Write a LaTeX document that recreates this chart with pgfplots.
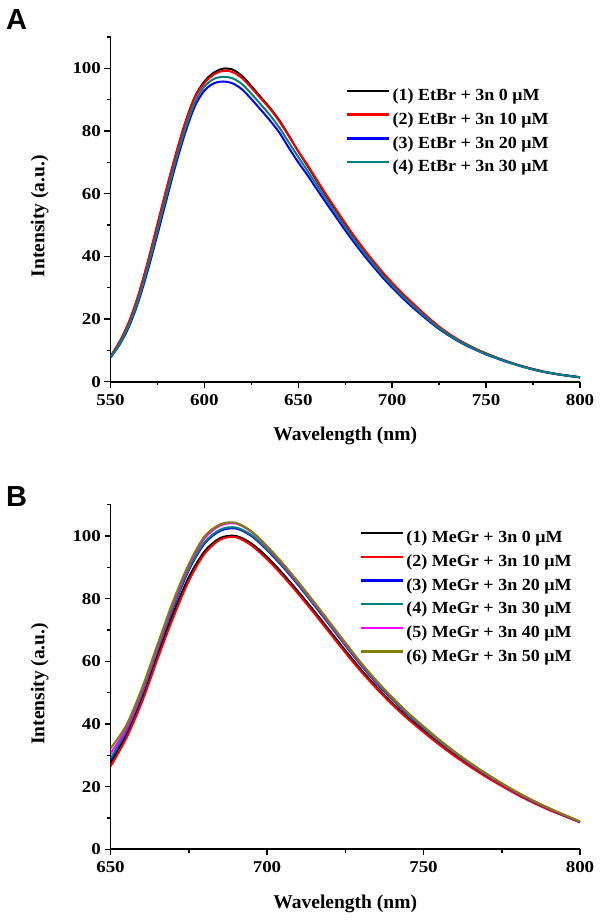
\documentclass[border=0pt]{standalone}
\usepackage{fontspec}
\setmainfont{Liberation Serif}
\newfontfamily\arialfont{Liberation Sans}
\newfontfamily\tickfont[FakeStretch=1.15]{Liberation Serif}
\newfontfamily\legfont[FakeStretch=1.06]{Liberation Serif}
\usepackage{pgfplots}
\usepackage{pgfplotstable}
\pgfplotsset{compat=1.18}
\definecolor{cteal}{RGB}{0,128,128}
\definecolor{colive}{RGB}{128,128,0}
\definecolor{cred}{RGB}{255,0,0}
\definecolor{cblue}{RGB}{0,0,255}
\definecolor{cmag}{RGB}{255,0,255}

\pgfplotstableread{
x y1 y2 y3 y4
550 8.0 8.1 7.7 7.8
555 12.8 13.0 12.0 12.3
560 19.1 19.4 17.8 18.3
565 27.7 28.0 25.8 26.5
570 38.3 38.6 35.8 36.8
575 50.0 50.3 47.0 48.2
580 61.7 62.0 58.5 59.8
585 72.9 73.0 69.8 71.0
590 83.0 82.9 79.8 81.0
595 91.0 90.8 88.0 89.2
600 95.8 95.3 92.9 94.2
605 98.6 98.0 95.2 96.6
610 99.9 99.2 95.8 97.3
615 99.6 98.8 95.2 96.8
620 97.6 96.9 93.3 95.0
625 94.3 93.8 90.2 91.9
630 90.8 90.4 86.8 88.5
635 87.3 87.0 83.3 85.0
640 83.3 83.0 79.4 81.0
645 78.5 78.3 74.6 76.3
650 73.5 73.5 70.0 71.7
655 68.8 69.1 65.8 67.2
660 64.0 64.3 61.3 62.6
665 59.3 59.6 56.9 58.1
670 54.8 55.1 52.6 53.7
675 50.3 50.6 48.3 49.3
680 46.0 46.3 44.2 45.1
685 42.0 42.3 40.3 41.2
690 38.2 38.5 36.7 37.5
695 34.6 34.9 33.2 33.9
700 31.3 31.6 30.0 30.7
705 28.2 28.5 27.0 27.6
710 25.3 25.6 24.2 24.8
715 22.5 22.8 21.6 22.1
720 19.9 20.1 19.1 19.5
725 17.4 17.6 16.8 17.1
730 15.3 15.4 14.8 15.0
735 13.4 13.5 13.0 13.2
740 11.8 11.8 11.4 11.6
745 10.3 10.3 10.0 10.1
750 9.0 9.0 8.7 8.8
755 7.8 7.8 7.6 7.7
760 6.7 6.7 6.5 6.6
765 5.7 5.7 5.6 5.6
770 4.8 4.8 4.7 4.7
775 4.0 4.0 3.9 3.9
780 3.3 3.3 3.2 3.2
785 2.7 2.7 2.7 2.7
790 2.2 2.2 2.2 2.2
795 1.8 1.8 1.8 1.8
800 1.4 1.4 1.4 1.4
}\dataA

\pgfplotstableread{
x y1 y2 y3 y4 y5 y6
650 27.4 26.4 28.5 29.0 30.6 32.2
655 36.5 35.3 37.3 37.8 38.5 39.5
660 48.0 46.8 49.2 49.6 50.5 51.3
665 62.0 60.6 63.2 63.6 64.5 65.3
670 75.2 73.8 77.0 77.4 78.4 79.2
675 86.8 85.6 89.0 89.4 90.4 91.0
680 95.0 94.2 97.5 97.9 99.2 99.8
685 99.3 98.8 101.6 102.0 103.3 103.7
690 100.0 99.6 102.4 102.7 104.0 104.2
695 97.6 97.0 100.0 100.3 101.3 101.5
700 93.3 92.6 95.5 95.8 96.5 96.8
705 88.0 87.3 90.2 90.5 91.0 91.3
710 82.2 81.5 84.3 84.6 85.0 85.3
715 76.1 75.4 78.0 78.3 78.7 79.0
720 69.8 69.1 71.6 71.9 72.2 72.5
725 63.5 62.8 65.1 65.4 65.7 66.0
730 57.4 56.8 58.8 59.0 59.3 59.6
735 51.8 51.3 53.0 53.3 53.6 53.8
740 46.7 46.2 47.8 48.0 48.3 48.5
745 42.0 41.6 43.0 43.2 43.5 43.6
750 37.8 37.4 38.6 38.8 39.1 39.2
755 33.7 33.4 34.5 34.6 34.9 35.0
760 30.0 29.7 30.7 30.8 31.0 31.1
765 26.6 26.3 27.1 27.2 27.4 27.5
770 23.4 23.1 23.8 23.9 24.1 24.2
775 20.4 20.2 20.8 20.9 21.0 21.1
780 17.6 17.4 17.9 18.0 18.1 18.2
785 15.1 14.9 15.3 15.4 15.5 15.6
790 12.8 12.6 13.0 13.1 13.1 13.2
795 10.7 10.6 10.8 10.9 10.9 11.0
800 8.7 8.6 8.7 8.8 8.8 8.9
}\dataB

\pgfplotsset{
  spec/.style={
    scale only axis, width=469.5pt, height=344.7pt,
    ymin=0, ymax=110,
    axis lines=left, axis line style={line width=1.7pt,-},
    ytick={0,20,...,100}, minor ytick={10,30,...,110},
    tick align=outside, major tick length=6pt, minor tick length=3.5pt,
    every tick/.style={black, line width=1.5pt},
    ticklabel style={font=\tickfont\fontsize{16.5}{17}\selectfont\bfseries},
    xticklabel style={yshift=-3pt},
    /pgf/number format/assume math mode=true,
    xlabel={Wavelength (nm)}, ylabel={Intensity (a.u.)},
    label style={font=\fontsize{19.5}{20}\selectfont\bfseries},
    xlabel style={at={(axis description cs:0.5,-0.172)}, anchor=base},
    ylabel style={at={(axis description cs:-0.141,0.48)}, anchor=base},
    legend cell align=left,
    legend image code/.code={\draw[##1, line width=2.4pt] (0pt,5.5pt) -- (42pt,5.5pt);},
    curve/.style={line width=2pt, smooth},
  }
}

\begin{document}
\begin{tikzpicture}
\useasboundingbox (0pt,0pt) rectangle (607pt,922pt);
\node[anchor=base west, inner sep=0pt, font=\arialfont\bfseries\fontsize{29}{29}\selectfont] at (6pt,892.7pt) {A};
\node[anchor=base west, inner sep=0pt, font=\arialfont\bfseries\fontsize{29}{29}\selectfont] at (6pt,415pt) {B};

\begin{axis}[spec,
  at={(110.5pt,540.3pt)}, anchor=south west,
  xmin=550, xmax=800,
  xtick={550,600,...,800}, minor xtick={575,625,...,775},
  legend style={at={(axis description cs:0.5005,0.852)}, anchor=north west,
    draw=none, fill=none, inner sep=0pt, row sep=7.2pt,
    font=\legfont\fontsize{17}{18}\selectfont\bfseries,
    nodes={inner xsep=2.5pt, inner ysep=0pt, text height=12.5pt, text depth=4pt}},
]
\addplot[curve, black] table[x=x,y=y1]{\dataA};
\addlegendentry{(1) EtBr + 3n 0 μM}
\addplot[curve, cred] table[x=x,y=y2]{\dataA};
\addlegendentry{(2) EtBr + 3n 10 μM}
\addplot[curve, cblue] table[x=x,y=y3]{\dataA};
\addlegendentry{(3) EtBr + 3n 20 μM}
\addplot[curve, cteal] table[x=x,y=y4]{\dataA};
\addlegendentry{(4) EtBr + 3n 30 μM}
\end{axis}

\begin{axis}[spec,
  at={(110.5pt,72.7pt)}, anchor=south west,
  xmin=650, xmax=800,
  xtick={650,700,...,800}, minor xtick={675,725,775},
  legend style={at={(axis description cs:0.530,0.926)}, anchor=north west,
    draw=none, fill=none, inner sep=0pt, row sep=7.2pt,
    font=\legfont\fontsize{17}{18}\selectfont\bfseries,
    nodes={inner xsep=2.5pt, inner ysep=0pt, text height=12.5pt, text depth=4pt}},
]
\addplot[curve, black] table[x=x,y=y1]{\dataB};
\addlegendentry{(1) MeGr + 3n 0 μM}
\addplot[curve, cred] table[x=x,y=y2]{\dataB};
\addlegendentry{(2) MeGr + 3n 10 μM}
\addplot[curve, cblue] table[x=x,y=y3]{\dataB};
\addlegendentry{(3) MeGr + 3n 20 μM}
\addplot[curve, cteal] table[x=x,y=y4]{\dataB};
\addlegendentry{(4) MeGr + 3n 30 μM}
\addplot[curve, cmag] table[x=x,y=y5]{\dataB};
\addlegendentry{(5) MeGr + 3n 40 μM}
\addplot[curve, colive] table[x=x,y=y6]{\dataB};
\addlegendentry{(6) MeGr + 3n 50 μM}
\end{axis}
\end{tikzpicture}
\end{document}
